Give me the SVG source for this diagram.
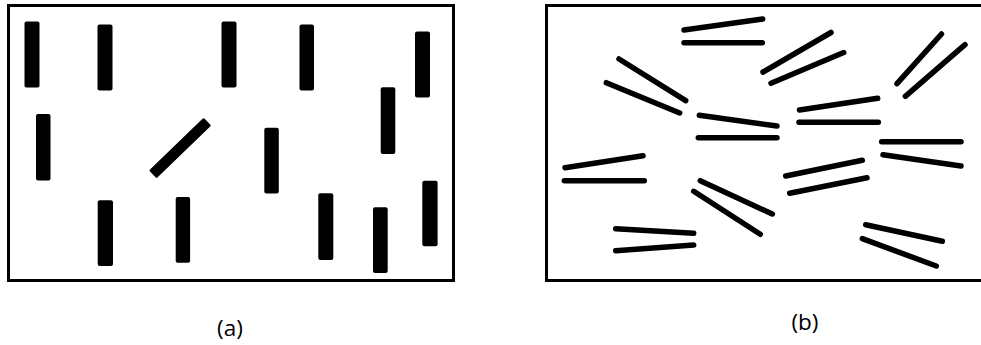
<svg xmlns="http://www.w3.org/2000/svg" width="981" height="345" viewBox="0 0 981 345">
  <style>
    .frame { fill: #ffffff; stroke: #000000; stroke-width: 3; }
    .bar { fill: #000000; }
    .fibre { stroke: #000000; stroke-width: 5.5; stroke-linecap: round; fill: none; }
    .caption { font-family: "Open Sans", "Noto Sans", "Liberation Sans", sans-serif; font-size: 22.5px; fill: #000000; text-anchor: middle; }
  </style>
  <rect width="981" height="345" fill="#ffffff"/>

  <!-- Panel (a): aligned rectangular particles -->
  <g id="panel-a">
    <rect class="frame" x="8.5" y="5.5" width="445" height="275"/>
    <g id="bars-a">
      <rect class="bar" x="24.5" y="21.5" width="15" height="66" rx="2"/>
      <rect class="bar" x="97.5" y="24.5" width="15" height="66" rx="2"/>
      <rect class="bar" x="221.5" y="21.5" width="15" height="66" rx="2"/>
      <rect class="bar" x="299.5" y="24.5" width="14.5" height="66" rx="2"/>
      <rect class="bar" x="415" y="31.5" width="15" height="66" rx="2"/>
      <rect class="bar" x="36" y="114" width="14.5" height="66.5" rx="2"/>
      <rect class="bar" x="-38" y="-5.5" width="76" height="11" rx="1.5" transform="translate(180.1 148) rotate(-44)"/>
      <rect class="bar" x="264.3" y="127.7" width="14.5" height="65.8" rx="2"/>
      <rect class="bar" x="380.7" y="87.3" width="14.6" height="66.7" rx="2"/>
      <rect class="bar" x="97.7" y="200.3" width="15.3" height="65.7" rx="2"/>
      <rect class="bar" x="175.7" y="197" width="14.4" height="65.7" rx="2"/>
      <rect class="bar" x="318.3" y="193.3" width="15" height="66.7" rx="2"/>
      <rect class="bar" x="373" y="207.3" width="14.7" height="65.7" rx="2"/>
      <rect class="bar" x="422.3" y="180.7" width="15.3" height="65.6" rx="2"/>
    </g>
    <text class="caption" x="230" y="336">(a)</text>
  </g>

  <!-- Panel (b): paired fibres in random orientations -->
  <g id="panel-b">
    <rect class="frame" x="546.5" y="5.5" width="460" height="275"/>
    <g id="fibres-b">
      <line class="fibre" x1="684" y1="30" x2="762.7" y2="19"/>
      <line class="fibre" x1="684" y1="42.7" x2="762.3" y2="42.7"/>
      <line class="fibre" x1="619" y1="59" x2="685.7" y2="100.7"/>
      <line class="fibre" x1="606.3" y1="82.7" x2="679.7" y2="113"/>
      <line class="fibre" x1="763" y1="72" x2="831" y2="32.5"/>
      <line class="fibre" x1="771" y1="83.3" x2="843.7" y2="52.5"/>
      <line class="fibre" x1="897" y1="83.7" x2="941.5" y2="34"/>
      <line class="fibre" x1="905.3" y1="96.3" x2="965" y2="44.7"/>
      <line class="fibre" x1="699.3" y1="115.3" x2="777" y2="126"/>
      <line class="fibre" x1="698.3" y1="137.7" x2="777" y2="137.7"/>
      <line class="fibre" x1="799.5" y1="110" x2="877.7" y2="98.3"/>
      <line class="fibre" x1="799" y1="122.3" x2="878.3" y2="122.3"/>
      <line class="fibre" x1="881.7" y1="141.7" x2="961" y2="141.7"/>
      <line class="fibre" x1="883" y1="154.7" x2="961" y2="166"/>
      <line class="fibre" x1="565" y1="167.7" x2="643" y2="155.7"/>
      <line class="fibre" x1="564.3" y1="180.7" x2="644.3" y2="180.7"/>
      <line class="fibre" x1="785.7" y1="176" x2="862.3" y2="160.3"/>
      <line class="fibre" x1="789.7" y1="193.3" x2="867" y2="177.7"/>
      <line class="fibre" x1="700.3" y1="180.7" x2="772.3" y2="214"/>
      <line class="fibre" x1="693.7" y1="191.3" x2="760.3" y2="234.3"/>
      <line class="fibre" x1="615.7" y1="228.7" x2="693.7" y2="233.3"/>
      <line class="fibre" x1="615.7" y1="250.7" x2="693.7" y2="245"/>
      <line class="fibre" x1="865.7" y1="224.7" x2="942.3" y2="241.3"/>
      <line class="fibre" x1="862.3" y1="238.7" x2="936.3" y2="266"/>
    </g>
    <text class="caption" x="805" y="330">(b)</text>
  </g>
</svg>
